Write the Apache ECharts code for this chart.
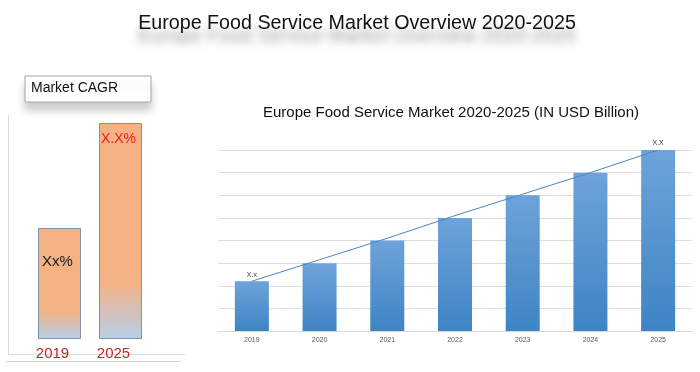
<!DOCTYPE html>
<html>
<head>
<meta charset="utf-8">
<script src="https://cdn.jsdelivr.net/npm/echarts@6/dist/echarts.min.js"></script>
<style>html,body{margin:0;padding:0;background:#fff;}#c{width:700px;height:372px;}</style>
</head>
<body>
<div id="c"></div>
<script>
// ---- data ----
var mainTitle = 'Europe Food Service Market Overview 2020-2025';
var rightTitle = 'Europe Food Service Market 2020-2025 (IN USD Billion)';
var boxTitle = 'Market CAGR';

var cagrYears = ['2019', '2025'];
var cagrValues = [5.14, 10];
var cagrLabels = ['Xx%', 'X.X%'];

var years = ['2019', '2020', '2021', '2022', '2023', '2024', '2025'];
var marketValues = [2.2, 3.0, 4.0, 5.0, 6.0, 7.0, 8.0];
var trendValues = [2.2, 3.15, 4.1, 5.1, 6.05, 7.0, 8.0];
var barLabels = ['X.x', '', '', '', '', '', 'X.X'];

// ---- chart ----
var chart = echarts.init(document.getElementById('c'), null, {renderer: 'canvas'});

var orangeGrad = new echarts.graphic.LinearGradient(0, 0, 0, 1, [
  {offset: 0, color: '#f4b183'},
  {offset: 0.74, color: '#f4b183'},
  {offset: 1, color: '#b6cfea'}
]);
var blueGrad = new echarts.graphic.LinearGradient(0, 0, 0, 1, [
  {offset: 0, color: '#6ea3da'},
  {offset: 1, color: '#3e84c4'}
]);

var cagrLabelStyles = [
  {position: [4, 26], fontSize: 15, color: '#1a1a1a'},
  {position: [2, 9], fontSize: 14, color: '#e8201e'}
];
var cagrData = cagrValues.map(function (v, i) {
  return {
    value: v,
    label: Object.assign({show: true, formatter: cagrLabels[i], fontFamily: 'Liberation Sans'}, cagrLabelStyles[i])
  };
});

var option = {
  animation: false,
  backgroundColor: '#ffffff',
  title: [
    {
      text: mainTitle,
      left: 352, top: 9, textAlign: 'center',
      textStyle: {
        fontFamily: 'Liberation Sans', fontSize: 19.7, fontWeight: 'normal', color: '#111',
        textShadowColor: 'rgba(0,0,0,0.4)', textShadowBlur: 8, textShadowOffsetY: 13
      }
    },
    {
      text: rightTitle,
      left: 446, top: 100, textAlign: 'center',
      textStyle: {fontFamily: 'Liberation Sans', fontSize: 15, fontWeight: 'normal', color: '#111'}
    }
  ],
  graphic: [
    {
      type: 'rect', shape: {x: 25, y: 76, width: 126, height: 26},
      style: {fill: '#fff', stroke: '#a6a6a6', lineWidth: 1,
        shadowColor: 'rgba(0,0,0,0.2)', shadowBlur: 8, shadowOffsetY: 8}
    },
    {
      type: 'text', x: 31, y: 81,
      style: {text: boxTitle, fontFamily: 'Liberation Sans', fontSize: 14, fill: '#111'}
    },
    {type: 'line', shape: {x1: 8.5, y1: 115, x2: 8.5, y2: 354}, style: {stroke: '#dcdcdc', lineWidth: 1}},
    {type: 'line', shape: {x1: 8, y1: 354.5, x2: 185, y2: 354.5}, style: {stroke: '#dcdcdc', lineWidth: 1}},
    {type: 'line', shape: {x1: 6, y1: 361.5, x2: 181, y2: 361.5}, style: {stroke: '#d4d4d4', lineWidth: 1}}
  ],
  grid: [
    {left: 29, width: 122, top: 123, bottom: 33, containLabel: false},
    {left: 218, right: 8, top: 150, bottom: 41, containLabel: false}
  ],
  xAxis: [
    {
      gridIndex: 0, type: 'category', data: cagrYears,
      axisLine: {show: false}, axisTick: {show: false},
      axisLabel: {color: '#b52a2a', fontSize: 15, fontFamily: 'Liberation Sans', margin: 7, padding: [0, 14, 0, 0]}
    },
    {
      gridIndex: 1, type: 'category', data: years,
      axisLine: {lineStyle: {color: '#d9d9d9'}}, axisTick: {show: false},
      axisLabel: {color: '#595959', fontSize: 7, fontFamily: 'Liberation Sans', margin: 6}
    }
  ],
  yAxis: [
    {
      gridIndex: 0, type: 'value', min: 0, max: 10,
      axisLine: {show: false}, axisTick: {show: false}, axisLabel: {show: false}, splitLine: {show: false}
    },
    {
      gridIndex: 1, type: 'value', min: 0, max: 8, interval: 1,
      axisLine: {show: false}, axisTick: {show: false}, axisLabel: {show: false},
      splitLine: {lineStyle: {color: '#dedede', width: 1}}
    }
  ],
  series: [
    {
      type: 'bar', xAxisIndex: 0, yAxisIndex: 0, data: cagrData, barWidth: 43,
      itemStyle: {color: orangeGrad, borderColor: '#7f93ad', borderWidth: 1}
    },
    {
      type: 'bar', xAxisIndex: 1, yAxisIndex: 1, data: marketValues, barWidth: 34,
      itemStyle: {color: blueGrad},
      label: {
        show: true, position: 'top', distance: 3, fontSize: 7, color: '#404040', fontFamily: 'Liberation Sans',
        formatter: function (p) { return barLabels[p.dataIndex]; }
      }
    },
    {
      type: 'line', xAxisIndex: 1, yAxisIndex: 1, data: trendValues,
      symbol: 'none', lineStyle: {color: '#4a86c5', width: 1}, z: 5
    }
  ]
};
chart.setOption(option);
</script>
</body>
</html>
